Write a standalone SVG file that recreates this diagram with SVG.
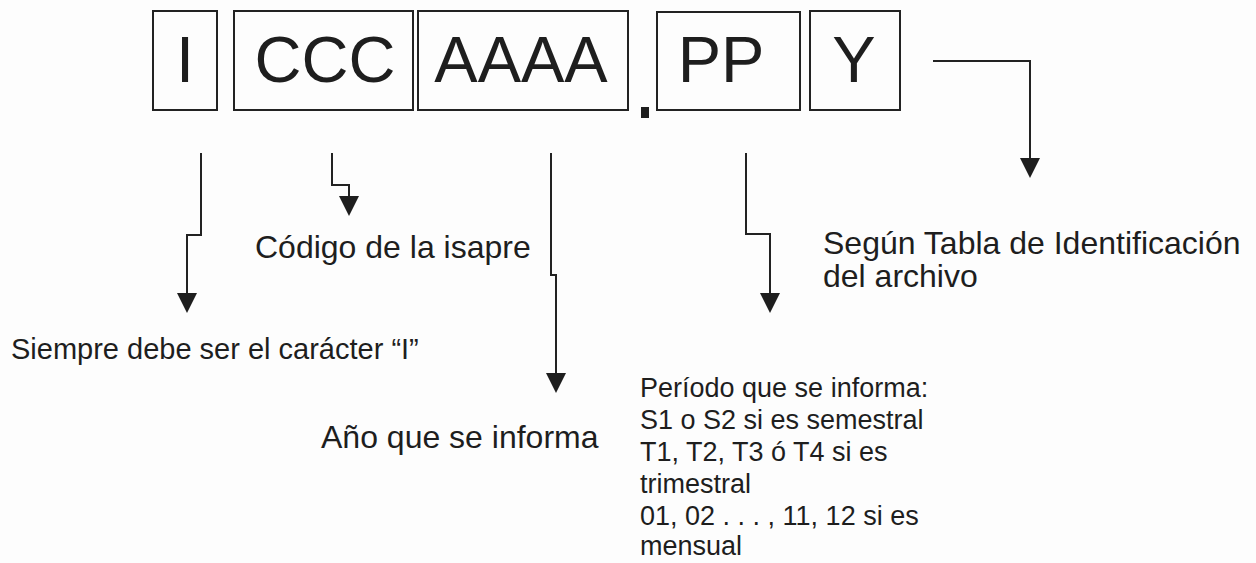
<svg xmlns="http://www.w3.org/2000/svg" width="1256" height="563" viewBox="0 0 1256 563">
  <style>
    .box { fill: none; stroke: #222; stroke-width: 2; }
    .big { font-family: "Liberation Sans", Arial, sans-serif; font-size: 65px; fill: #1e1e1e; text-anchor: middle; }
    .lbl { font-family: "Liberation Sans", Arial, sans-serif; font-size: 32px; fill: #1e1e1e; }
    .sm { font-size: 29px; }
    .per { font-size: 27px; }
    .conn { fill: none; stroke: #222; stroke-width: 2; marker-end: url(#tri); }
  </style>
  <defs>
    <marker id="tri" viewBox="0 0 20 20" refX="0" refY="10" markerWidth="20" markerHeight="20" markerUnits="userSpaceOnUse" orient="auto">
      <path d="M0,0 L20,10 L0,20 z" fill="#1e1e1e"/>
    </marker>
  </defs>
  <rect width="1256" height="563" fill="#fdfdfd"/>

  <g id="node-I">
    <rect class="box" x="153" y="11" width="64" height="99"/>
    <text class="big" x="185" y="82">I</text>
  </g>
  <g id="node-CCC">
    <rect class="box" x="234" y="11" width="179" height="99"/>
    <text class="big" x="325" y="82">CCC</text>
  </g>
  <g id="node-AAAA">
    <rect class="box" x="418" y="11" width="210" height="99"/>
    <text class="big" x="521" y="82">AAAA</text>
  </g>
  <g id="node-dot">
    <rect x="641" y="107" width="8" height="11" fill="#1e1e1e"/>
  </g>
  <g id="node-PP">
    <rect class="box" x="657" y="12" width="143" height="98"/>
    <text class="big" x="721" y="82">PP</text>
  </g>
  <g id="node-Y">
    <rect class="box" x="810" y="11" width="90" height="99"/>
    <text class="big" x="854" y="82">Y</text>
  </g>

  <g id="connectors">
    <path class="conn" d="M201,153 V235 H187 V293"/>
    <path class="conn" d="M332,153 V185 H349 V196"/>
    <path class="conn" d="M551,153 V275 H556 V373"/>
    <path class="conn" d="M746,153 V234 H770 V293"/>
    <path class="conn" d="M933,61 H1030 V158"/>
  </g>

  <g id="label-codigo">
    <text class="lbl" x="255" y="258">Código de la isapre</text>
  </g>
  <g id="label-siempre">
    <text class="lbl sm" x="11" y="359">Siempre debe ser el carácter “I”</text>
  </g>
  <g id="label-anio">
    <text class="lbl" x="321" y="448">Año que se informa</text>
  </g>
  <g id="label-segun">
    <text class="lbl" x="823" y="254">Según Tabla de Identificación</text>
    <text class="lbl" x="823" y="287">del archivo</text>
  </g>
  <g id="label-periodo">
    <text class="lbl per" x="640" y="397">Período que se informa:</text>
    <text class="lbl per" x="640" y="429">S1 o S2 si es semestral</text>
    <text class="lbl per" x="640" y="461">T1, T2, T3 ó T4 si es</text>
    <text class="lbl per" x="640" y="493">trimestral</text>
    <text class="lbl per" x="640" y="525">01, 02 . . . , 11, 12 si es</text>
    <text class="lbl per" x="640" y="555">mensual</text>
  </g>
</svg>
